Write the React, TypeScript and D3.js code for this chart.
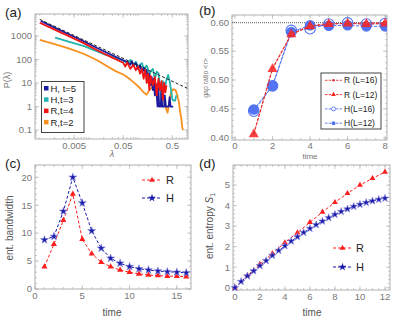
import React from 'react';
import * as d3 from 'd3';

// (a) level-spacing distributions, [lambda, P(lambda)]
const h5Curve = [[0.00105,4300],[0.002,2250],[0.004,1150],[0.008,580],[0.015,300],[0.03,150],[0.05,92],[0.06,80],[0.07,60],[0.075,85],[0.08,55],[0.09,70],[0.1,40],[0.11,55],[0.12,30],[0.13,45],[0.14,20],[0.15,35],[0.16,12],[0.17,25],[0.18,8],[0.19,18],[0.2,5],[0.21,15],[0.22,3],[0.23,9],[0.25,1],[0.26,6],[0.27,1],[0.29,1],[0.3,5],[0.31,1],[0.34,1],[0.35,3],[0.37,1],[0.42,1],[0.44,2.5],[0.46,1],[0.52,1]];
const h3Curve = [[0.00205,850],[0.004,560],[0.008,370],[0.012,260],[0.02,170],[0.03,130],[0.04,105],[0.05,90],[0.06,70],[0.07,95],[0.08,60],[0.09,80],[0.1,50],[0.12,70],[0.13,40],[0.15,55],[0.17,25],[0.2,40],[0.22,15],[0.24,30],[0.26,26],[0.28,8],[0.3,1.8],[0.32,12],[0.35,6],[0.38,14],[0.41,22],[0.44,12],[0.47,5],[0.5,2],[0.53,1.8],[0.57,1.8],[0.6,3]];
const r4Curve = [[0.001,3600],[0.002,1850],[0.004,950],[0.008,480],[0.015,240],[0.03,120],[0.05,72],[0.055,50],[0.06,75],[0.07,40],[0.08,60],[0.09,35],[0.1,50],[0.11,25],[0.12,40],[0.13,15],[0.14,35],[0.15,10],[0.16,25],[0.17,5],[0.18,20],[0.2,8],[0.22,18],[0.24,3],[0.26,15],[0.28,5],[0.3,12],[0.32,2],[0.34,10],[0.36,4],[0.38,8]];
const r2Curve = [[0.001,680],[0.002,450],[0.004,290],[0.008,170],[0.015,90],[0.025,48],[0.035,32],[0.05,23],[0.07,14],[0.09,9],[0.11,6],[0.13,4],[0.15,3.2],[0.17,5],[0.2,7],[0.24,9],[0.28,8],[0.32,3],[0.36,1],[0.4,0.55],[0.43,1.5],[0.47,4],[0.52,5.5],[0.58,5],[0.63,3],[0.68,1.5],[0.72,0.6],[0.76,0.3],[0.8,0.12],[0.83,0.1]];
const powerLine = [[0.001,5000],[1.0,6]];
const aSeries = [
  { label: 'H, t=5', color: '#1c1ca0', pts: h5Curve },
  { label: 'H,t=3', color: '#22b3ae', pts: h3Curve },
  { label: 'R,t=4', color: '#f01414', pts: r4Curve },
  { label: 'R,t=2', color: '#f7901e', pts: r2Curve },
];
const aDrawOrder = [3, 1, 0, 2];
const aYTicks = [0.1, 1, 10, 100, 1000];
const aXTicks = [0.005, 0.05, 0.5];

// (b) gap ratio
const timesB = [1, 2, 3, 4, 5, 6, 7, 8];
const rL16 = [0.407, 0.521, 0.580, 0.594, 0.598, 0.598, 0.599, 0.599];
const rL12 = [0.406, 0.519, 0.579, 0.593, 0.597, 0.598, 0.597, 0.598];
const hL16 = [0.446, 0.490, 0.586, 0.589, 0.597, 0.599, 0.597, 0.598];
const hL12 = [0.449, 0.490, 0.583, 0.595, 0.594, 0.595, 0.593, 0.593];
const gueRatio = 0.5996;
const bYTicks = [0.40, 0.45, 0.50, 0.55, 0.60];
const bXTicks = [0, 2, 4, 6, 8];

// (c) entanglement bandwidth
const timesC = [1, 2, 3, 4, 5, 6, 7, 8, 9, 10, 11, 12, 13, 14, 15, 16];
const rBand = [4.0, 8.0, 12.3, 17.0, 8.9, 6.3, 4.8, 4.0, 3.4, 3.0, 2.7, 2.5, 2.4, 2.3, 2.3, 2.2];
const hBand = [8.8, 9.4, 13.9, 20.0, 15.4, 10.4, 7.3, 5.5, 4.6, 4.0, 3.6, 3.4, 3.2, 3.1, 3.0, 2.9];
const cYTicks = [0, 5, 10, 15, 20];
const cXTicks = [0, 5, 10, 15];

// (d) entanglement entropy
const timesDR = [0, 1, 2, 3, 4, 5, 6, 7, 8, 9, 10, 11, 12];
const rEntropy = [0, 0.59, 1.15, 1.67, 2.2, 2.68, 3.19, 3.69, 4.16, 4.6, 5.0, 5.33, 5.64];
const timesDH = [0, 0.5, 1, 1.5, 2, 2.5, 3, 3.5, 4, 4.5, 5, 5.5, 6, 6.5, 7, 7.5, 8, 8.5, 9, 9.5, 10, 10.5, 11, 11.5, 12];
const hEntropy = [0, 0.3, 0.57, 0.82, 1.07, 1.32, 1.57, 1.81, 2.04, 2.27, 2.48, 2.69, 2.89, 3.07, 3.24, 3.41, 3.57, 3.71, 3.84, 3.96, 4.06, 4.15, 4.23, 4.3, 4.36];
const dYTicks = [0, 1, 2, 3, 4, 5];
const dXTicks = [0, 2, 4, 6, 8, 10, 12];

const RED = '#ff1e1e';
const NAVY = '#1a1aa8';
const BLUE = '#5273f2';
const FONT = '"Liberation Sans", Arial, sans-serif';

const frame = (g, x, y, xt, yt, xMinor, yMinor, xFmt, yFmt, labDy = 10) => {
  const [x0, x1] = x.range();
  const [y0, y1] = y.range();
  const tk = g.append('g').attr('stroke', '#b5b5b5').attr('stroke-width', 0.7);
  xMinor.forEach(v => {
    tk.append('line').attr('x1', x(v)).attr('x2', x(v)).attr('y1', y0).attr('y2', y0 - 2);
    tk.append('line').attr('x1', x(v)).attr('x2', x(v)).attr('y1', y1).attr('y2', y1 + 2);
  });
  xt.forEach(v => {
    tk.append('line').attr('x1', x(v)).attr('x2', x(v)).attr('y1', y0).attr('y2', y0 - 4);
    tk.append('line').attr('x1', x(v)).attr('x2', x(v)).attr('y1', y1).attr('y2', y1 + 4);
  });
  yMinor.forEach(v => {
    tk.append('line').attr('y1', y(v)).attr('y2', y(v)).attr('x1', x0).attr('x2', x0 + 2);
    tk.append('line').attr('y1', y(v)).attr('y2', y(v)).attr('x1', x1).attr('x2', x1 - 2);
  });
  yt.forEach(v => {
    tk.append('line').attr('y1', y(v)).attr('y2', y(v)).attr('x1', x0).attr('x2', x0 + 4);
    tk.append('line').attr('y1', y(v)).attr('y2', y(v)).attr('x1', x1).attr('x2', x1 - 4);
  });
  g.append('rect')
    .attr('x', x0).attr('y', y1).attr('width', x1 - x0).attr('height', y0 - y1)
    .attr('fill', 'none').attr('stroke', '#b0b0b0').attr('stroke-width', 1);
  g.append('g').selectAll('text').data(xt).join('text')
    .attr('x', d => x(d)).attr('y', y0 + labDy)
    .attr('text-anchor', 'middle').attr('font-size', 9.5).attr('fill', '#777')
    .text(xFmt);
  g.append('g').selectAll('text').data(yt).join('text')
    .attr('x', x0 - 3).attr('y', d => y(d)).attr('dy', '0.35em')
    .attr('text-anchor', 'end').attr('font-size', 9.5).attr('fill', '#777')
    .text(yFmt);
};

const logMinor = (lo, hi) => {
  const out = [];
  for (let e = -3; e <= 4; e++) {
    for (let m = 1; m <= 9; m++) {
      const v = m * Math.pow(10, e);
      if (v >= lo && v <= hi) out.push(v);
    }
  }
  return out;
};

const App = () => {
  const svgRef = React.useRef(null);

  React.useEffect(() => {
    document.body.style.margin = '0';
    const svg = d3.select(svgRef.current);
    svg.selectAll('*').remove();
    svg.attr('font-family', FONT);

    const addClip = (id, x, y) => {
      const [x0, x1] = x.range();
      const [y0, y1] = y.range();
      svg.append('clipPath').attr('id', id).append('rect')
        .attr('x', x0).attr('y', y1).attr('width', x1 - x0).attr('height', y0 - y1);
    };

    const panelLabel = (t, px, py) => {
      svg.append('text').attr('x', px).attr('y', py).attr('font-size', 13.5).attr('fill', '#222').text(t);
    };

    const rotLabel = (t, px, py, size, color) => {
      return svg.append('text').attr('transform', `translate(${px},${py}) rotate(-90)`)
        .attr('text-anchor', 'middle').attr('font-size', size).attr('fill', color).text(t);
    };

    // ---------- (a)
    const xa = d3.scaleLog().domain([0.0008, 1.04]).range([35, 188]);
    const ya = d3.scaleLog().domain([0.042, 8500]).range([139, 14]);
    const ga = svg.append('g');
    frame(ga, xa, ya, aXTicks, aYTicks, logMinor(0.0008, 1.04), logMinor(0.042, 8500),
      d => String(d), d => String(d));
    addClip('clipA', xa, ya);
    const la = d3.line().x(d => xa(d[0])).y(d => ya(d[1]));
    const pa = ga.append('g').attr('clip-path', 'url(#clipA)');
    aDrawOrder.forEach(i => {
      const s = aSeries[i];
      pa.append('path').attr('d', la(s.pts)).attr('fill', 'none')
        .attr('stroke', s.color).attr('stroke-width', 1.8).attr('stroke-linejoin', 'round');
    });
    pa.append('path').attr('d', la(powerLine)).attr('fill', 'none')
      .attr('stroke', '#222').attr('stroke-width', 1).attr('stroke-dasharray', '3,2');
    const lga = ga.append('g');
    lga.append('rect').attr('x', 41.5).attr('y', 81.5).attr('width', 42.5).attr('height', 51)
      .attr('fill', 'white').attr('stroke', '#444').attr('stroke-width', 1);
    aSeries.forEach((s, i) => {
      const yy = 88.5 + i * 11.3;
      lga.append('rect').attr('x', 44).attr('y', yy - 2.5).attr('width', 4.5).attr('height', 4.5).attr('fill', s.color);
      lga.append('text').attr('x', 50.5).attr('y', yy).attr('dy', '0.35em')
        .attr('font-size', 9.5).attr('fill', '#222').text(s.label);
    });
    panelLabel('(a)', 5, 17);
    rotLabel('P(λ)', 10, 80, 9, '#777');
    svg.append('text').attr('x', 112).attr('y', 157).attr('text-anchor', 'middle')
      .attr('font-size', 9).attr('font-style', 'italic').attr('fill', '#777').text('λ');

    // ---------- (b)
    const xb = d3.scaleLinear().domain([-0.16, 8.1]).range([232, 387]);
    const yb = d3.scaleLinear().domain([0.396, 0.6127]).range([140, 15]);
    const gb = svg.append('g');
    frame(gb, xb, yb, bXTicks, bYTicks, d3.range(0, 8.01, 0.5), d3.range(0.40, 0.611, 0.01),
      d => String(d), d => d.toFixed(2), 8.5);
    addClip('clipB', xb, yb);
    const pb = gb.append('g').attr('clip-path', 'url(#clipB)');
    pb.append('line').attr('x1', xb.range()[0]).attr('x2', xb.range()[1])
      .attr('y1', yb(gueRatio)).attr('y2', yb(gueRatio))
      .attr('stroke', '#777').attr('stroke-width', 1.2).attr('stroke-dasharray', '1,1');
    const lb = d3.line().x((d, i) => xb(timesB[i])).y(d => yb(d));
    const tri = d3.symbol().type(d3.symbolTriangle);
    const star = d3.symbol().type(d3.symbolStar);
    const bSeries = [
      { vals: hL12, color: BLUE, kind: 'fcirc' },
      { vals: hL16, color: BLUE, kind: 'ocirc' },
      { vals: rL12, color: RED, kind: 'tri' },
      { vals: rL16, color: '#e03a3a', kind: 'dot' },
    ];
    bSeries.forEach(s => {
      pb.append('path').attr('d', lb(s.vals)).attr('fill', 'none')
        .attr('stroke', s.color).attr('stroke-width', 1).attr('stroke-dasharray', '3,1.5');
      s.vals.forEach((v, i) => {
        const cx = xb(timesB[i]), cy = yb(v);
        if (s.kind === 'fcirc') pb.append('circle').attr('cx', cx).attr('cy', cy).attr('r', 5.3).attr('fill', s.color);
        if (s.kind === 'ocirc') pb.append('circle').attr('cx', cx).attr('cy', cy).attr('r', 5.3).attr('fill', 'none').attr('stroke', s.color).attr('stroke-width', 1.1);
        if (s.kind === 'tri') pb.append('path').attr('d', tri.size(44)()).attr('transform', `translate(${cx},${cy})`).attr('fill', s.color).attr('fill-opacity', 0.85);
        if (s.kind === 'dot') pb.append('circle').attr('cx', cx).attr('cy', cy).attr('r', 1.5).attr('fill', s.color);
      });
    });
    const lgb = gb.append('g');
    lgb.append('rect').attr('x', 321).attr('y', 73).attr('width', 60).attr('height', 56)
      .attr('fill', 'white').attr('stroke', '#444').attr('stroke-width', 1);
    const bLegend = [
      { label: 'R (L=16)', color: '#e03a3a', kind: 'dot' },
      { label: 'R (L=12)', color: RED, kind: 'tri' },
      { label: 'H(L=16)', color: BLUE, kind: 'ocirc' },
      { label: 'H(L=12)', color: BLUE, kind: 'fcirc' },
    ];
    bLegend.forEach((s, i) => {
      const yy = 80.3 + i * 14.3;
      lgb.append('line').attr('x1', 325).attr('x2', 342).attr('y1', yy).attr('y2', yy)
        .attr('stroke', s.color).attr('stroke-width', 0.9).attr('stroke-dasharray', '2.5,1.2');
      if (s.kind === 'dot') lgb.append('circle').attr('cx', 333.5).attr('cy', yy).attr('r', 1.3).attr('fill', s.color);
      if (s.kind === 'tri') lgb.append('path').attr('d', tri.size(10)()).attr('transform', `translate(333.5,${yy})`).attr('fill', s.color);
      if (s.kind === 'ocirc') lgb.append('circle').attr('cx', 333.5).attr('cy', yy).attr('r', 2).attr('fill', 'white').attr('stroke', s.color).attr('stroke-width', 0.9);
      if (s.kind === 'fcirc') lgb.append('circle').attr('cx', 333.5).attr('cy', yy).attr('r', 2).attr('fill', s.color);
      lgb.append('text').attr('x', 344).attr('y', yy).attr('dy', '0.35em')
        .attr('font-size', 8.5).attr('fill', '#222').text(s.label);
    });
    panelLabel('(b)', 199, 15);
    rotLabel('gap ratio <r>', 208, 78, 7, '#777');
    svg.append('text').attr('x', 310).attr('y', 158.5).attr('text-anchor', 'middle')
      .attr('font-size', 8).attr('fill', '#777').text('time');

    // ---------- (c)
    const xc = d3.scaleLinear().domain([0, 16.5]).range([35, 191]);
    const yc = d3.scaleLinear().domain([0, 22.2]).range([289, 165]);
    const gc = svg.append('g');
    frame(gc, xc, yc, cXTicks, cYTicks, d3.range(0, 16.01, 1), d3.range(0, 22.01, 1),
      d => String(d), d => String(d));
    const lc = d3.line().x((d, i) => xc(timesC[i])).y(d => yc(d));
    gc.append('path').attr('d', lc(rBand)).attr('fill', 'none').attr('stroke', RED)
      .attr('stroke-width', 1).attr('stroke-dasharray', '3,2');
    gc.append('path').attr('d', lc(hBand)).attr('fill', 'none').attr('stroke', NAVY)
      .attr('stroke-width', 1).attr('stroke-dasharray', '3,2');
    rBand.forEach((v, i) => {
      gc.append('path').attr('d', tri.size(16)()).attr('transform', `translate(${xc(timesC[i])},${yc(v)})`).attr('fill', RED);
    });
    hBand.forEach((v, i) => {
      gc.append('path').attr('d', star.size(20)()).attr('transform', `translate(${xc(timesC[i])},${yc(v)})`)
        .attr('fill', NAVY).attr('stroke', '#8a8ae0').attr('stroke-width', 0.6);
    });
    const cLeg = [{ label: 'R', color: RED, sym: 'tri', y: 180 }, { label: 'H', color: NAVY, sym: 'star', y: 198 }];
    cLeg.forEach(s => {
      gc.append('line').attr('x1', 142).attr('x2', 162).attr('y1', s.y).attr('y2', s.y)
        .attr('stroke', s.color).attr('stroke-width', 1).attr('stroke-dasharray', '3,2');
      gc.append('path').attr('d', (s.sym === 'tri' ? tri.size(14) : star.size(20))())
        .attr('transform', `translate(152,${s.y})`).attr('fill', s.color);
      gc.append('text').attr('x', 166).attr('y', s.y).attr('dy', '0.35em')
        .attr('font-size', 11).attr('fill', '#222').text(s.label);
    });
    panelLabel('(c)', 5, 168);
    rotLabel('ent. bandwidth', 13, 228, 10, '#555');
    svg.append('text').attr('x', 112).attr('y', 316).attr('text-anchor', 'middle')
      .attr('font-size', 10).attr('fill', '#555').text('time');

    // ---------- (d)
    const xd = d3.scaleLinear().domain([-0.15, 12.4]).range([233, 390]);
    const yd = d3.scaleLinear().domain([-0.11, 5.98]).range([290, 165]);
    const gd = svg.append('g');
    frame(gd, xd, yd, dXTicks, dYTicks, d3.range(0, 12.01, 0.5), d3.range(0, 5.81, 0.2),
      d => String(d), d => String(d));
    const ldr = d3.line().x((d, i) => xd(timesDR[i])).y(d => yd(d));
    const ldh = d3.line().x((d, i) => xd(timesDH[i])).y(d => yd(d));
    gd.append('path').attr('d', ldr(rEntropy)).attr('fill', 'none').attr('stroke', RED)
      .attr('stroke-width', 1).attr('stroke-dasharray', '3,2');
    gd.append('path').attr('d', ldh(hEntropy)).attr('fill', 'none').attr('stroke', NAVY)
      .attr('stroke-width', 1).attr('stroke-dasharray', '3,2');
    rEntropy.forEach((v, i) => {
      gd.append('path').attr('d', tri.size(15)()).attr('transform', `translate(${xd(timesDR[i])},${yd(v)})`).attr('fill', RED);
    });
    hEntropy.forEach((v, i) => {
      gd.append('path').attr('d', star.size(18)()).attr('transform', `translate(${xd(timesDH[i])},${yd(v)})`)
        .attr('fill', NAVY).attr('stroke', '#8a8ae0').attr('stroke-width', 0.6);
    });
    const dLeg = [{ label: 'R', color: RED, sym: 'tri', y: 248 }, { label: 'H', color: NAVY, sym: 'star', y: 267 }];
    dLeg.forEach(s => {
      gd.append('line').attr('x1', 333).attr('x2', 352).attr('y1', s.y).attr('y2', s.y)
        .attr('stroke', s.color).attr('stroke-width', 1).attr('stroke-dasharray', '3,2');
      gd.append('path').attr('d', (s.sym === 'tri' ? tri.size(14) : star.size(20))())
        .attr('transform', `translate(342.5,${s.y})`).attr('fill', s.color);
      gd.append('text').attr('x', 356).attr('y', s.y).attr('dy', '0.35em')
        .attr('font-size', 11).attr('fill', '#222').text(s.label);
    });
    panelLabel('(d)', 199, 168);
    const et = rotLabel('ent. entropy ', 213, 226, 10, '#555');
    et.append('tspan').attr('font-style', 'italic').text('S');
    et.append('tspan').attr('font-size', 7).attr('dy', 2).text('1');
    svg.append('text').attr('x', 312).attr('y', 316).attr('text-anchor', 'middle')
      .attr('font-size', 10).attr('fill', '#555').text('time');
  }, []);

  return <svg ref={svgRef} width={399} height={319} style={{ position: 'absolute', left: 0, top: 0, background: 'white' }} />;
};

export default App;
